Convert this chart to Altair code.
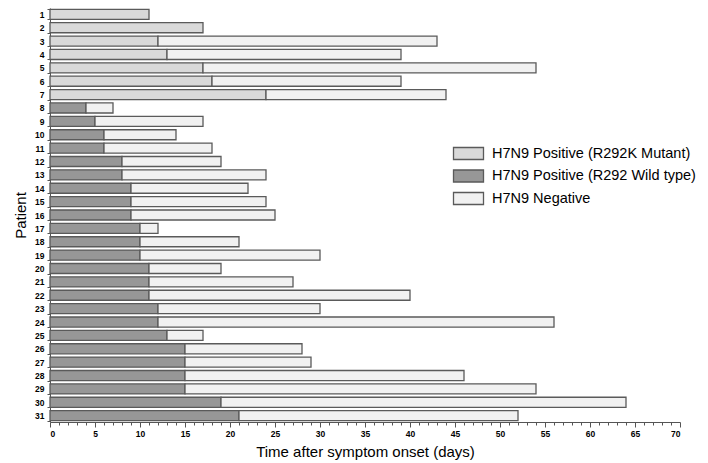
import altair as alt
import pandas as pd

patients = list(range(1, 32))
positive_days = [11, 17, 12, 13, 17, 18, 24, 4, 5, 6, 6, 8, 8, 9, 9, 9, 10, 10, 10, 11, 11,
                 11, 12, 12, 13, 15, 15, 15, 15, 19, 21]
total_days = [11, 17, 43, 39, 54, 39, 44, 7, 17, 14, 18, 19, 24, 22, 24, 25, 12, 21, 30, 19, 27,
              40, 30, 56, 17, 28, 29, 46, 54, 64, 52]
strain = ["H7N9 Positive (R292K Mutant)"] * 7 + ["H7N9 Positive (R292 Wild type)"] * 24
categories = ["H7N9 Positive (R292K Mutant)", "H7N9 Positive (R292 Wild type)", "H7N9 Negative"]
fills = ["#d9d9d9", "#979797", "#f1f1f1"]

rows = []
for p, pos, tot, s in zip(patients, positive_days, total_days, strain):
    rows.append({"patient": p, "start": 0, "end": pos, "status": s})
    if tot > pos:
        rows.append({"patient": p, "start": pos, "end": tot, "status": "H7N9 Negative"})
df = pd.DataFrame(rows)

chart = alt.Chart(df).mark_bar(stroke="#5a5a5a", strokeWidth=1.3).encode(
    y=alt.Y("patient:O", title="Patient",
            scale=alt.Scale(paddingInner=0.25, paddingOuter=0.1),
            axis=alt.Axis(labelFont="Liberation Sans", labelFontWeight="bold",
                          labelFontSize=8.5, labelColor="#000", tickBand="extent",
                          tickSize=3, tickColor="#555", domainColor="#555",
                          titleFont="Liberation Sans", titleFontSize=15,
                          titleFontWeight="normal", titleColor="#000", titlePadding=6,
                          labelPadding=3)),
    x=alt.X("start:Q", title="Time after symptom onset (days)",
            scale=alt.Scale(domain=[0, 70], nice=False),
            axis=alt.Axis(values=list(range(0, 71)),
                          labelExpr="datum.value % 5 === 0 ? datum.label : ''",
                          tickSize={"condition": {"test": "datum.value % 5 === 0", "value": 5},
                                    "value": 3},
                          labelFont="Liberation Sans", labelFontWeight="bold",
                          labelFontSize=8.5, labelColor="#000", tickColor="#555",
                          domainColor="#555", grid=False, labelPadding=2,
                          titleFont="Liberation Sans", titleFontSize=15,
                          titleFontWeight="normal", titleColor="#000", titlePadding=7)),
    x2="end:Q",
    color=alt.Color("status:N", scale=alt.Scale(domain=categories, range=fills),
                    legend=alt.Legend(title=None, orient="none", legendX=410, legendY=137,
                                      symbolType="M-2,-0.8H2V0.8H-2Z", symbolSize=225,
                                      symbolStrokeColor="#5a5a5a", symbolStrokeWidth=1.3,
                                      symbolOpacity=1,
                                      labelFont="Liberation Sans", labelFontSize=14.5,
                                      labelColor="#000", labelOffset=15, rowPadding=3.5,
                                      labelLimit=400)),
).properties(
    width=630, height=414,
    autosize=alt.AutoSizeParams(type="none"),
    padding={"left": 42, "top": 0, "right": 20, "bottom": 46},
).configure_view(stroke=None)

chart.save("out.html", embed_options={"renderer": "svg", "actions": False})
